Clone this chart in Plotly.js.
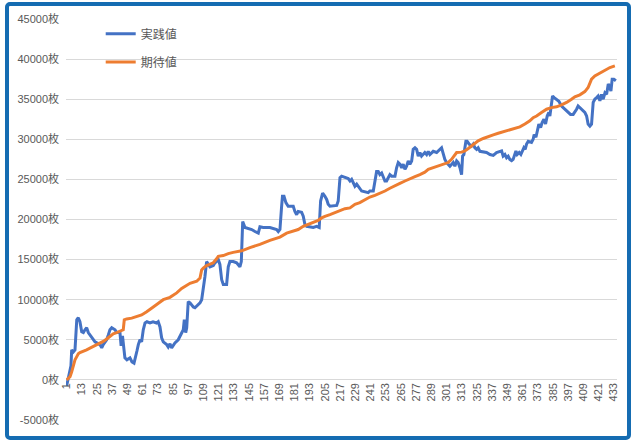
<!DOCTYPE html>
<html>
<head>
<meta charset="utf-8">
<script src="https://cdn.plot.ly/plotly-3.0.1.min.js"></script>
<style>
  html, body { margin: 0; padding: 0; background: #fff; }
  #frame { position: absolute; left: 5px; top: 2px; width: 626px; height: 438px;
           box-sizing: border-box; border: 4px solid #156CB2; border-radius: 5px; }
  #chart { position: absolute; left: 0; top: 0; width: 644px; height: 445px; }
</style>
</head>
<body>
<div id="frame"></div>
<div id="chart"></div>
<script>
// 実践値 (blue): index along the run
const actualIdx = [1,2.3,3.7,4.4,5,6.3,7.6,9,10.2,11.5,12.9,14.2,15.5,16.8,18.1,19.4,20.8,23.4,27.3,28.7,29.9,32.6,33.9,35.2,36.6,39.2,40.5,43.1,44,45.1,47,48.6,51,52.6,54.2,55.4,56.5,57.6,58.9,60.2,61.5,62.9,64.4,66.8,69.2,72,73.3,74.7,76,77.3,78.6,80,81.2,82.6,83.9,86.5,89.1,91.8,93.1,93.9,95,95.8,97,98.4,101,102.3,104.9,106.3,107.6,108.9,110.2,111.5,112.8,114.2,116.8,118.1,120.7,122,123.4,124.7,127.3,128.6,129.9,132.5,135.2,136.5,137.8,138.9,140,141.8,144.4,147.1,149.7,152.3,153.6,156.2,161.5,166.8,168.1,169.4,170.7,171.4,172.6,174.1,175.9,179.9,181.2,182.6,183.8,186.5,187.8,189.1,190.5,195.7,198.4,200.4,201.5,203.1,204.9,206.3,207.5,208.9,214.2,215.4,216.8,218.1,223.3,224.7,226,227.3,228.6,230,232.5,233.9,239.1,240.4,243.1,245.7,247,248.3,249.7,252.3,253.6,254.9,256.2,257.6,260.2,261.5,262.8,264.1,265.5,266.7,268.1,269.4,270.7,272,273.4,274.6,276,277.3,278.6,279.9,281.2,283.8,285.2,286.5,287.8,290.4,293.1,297,298.3,299.6,301,302.2,303.6,306.2,307.5,308.9,310.1,311.5,312.8,313.6,314.6,316.2,317.2,318.8,320.7,322,323.3,324.7,325.9,327.3,332.5,335.2,337.8,340.4,343,344.4,345.6,347,348.3,349.6,350.9,352.3,353.5,354.9,355.7,356.7,358.3,359.6,361,362,363,364.1,365.4,368,369.3,370.1,371.5,372.5,373.8,375.2,376.4,377.8,379.1,380.4,381.7,382.5,383.8,384.6,385.9,387.2,389.6,391.7,393,394.3,395.7,397,398.8,400.9,402.2,403.6,404.8,406.2,408.8,410.1,411.5,412.7,414.1,415.4,416.7,418,419.4,420.6,422,423.3,424.6,426,427.3,428.6,429.9,430.7,431.7,433,434.6];
const actualVal = [-750,250,1000,1750,3750,3500,3750,7500,7750,7250,6000,5900,6250,6500,5900,5600,5250,4750,4400,4000,4400,5000,5600,6250,6500,6250,5900,5900,4250,5500,2750,2500,2750,2250,2100,2750,3600,4400,5000,4750,6250,7100,7250,7100,7250,7100,7250,6600,5250,4750,4600,4400,4100,4500,4000,4600,5000,5900,6250,7500,5900,6500,9750,9600,9100,9000,9400,9600,10000,11250,12900,14750,14400,14100,14250,14600,15000,14400,12500,11900,11900,14100,14750,14750,14600,14400,14100,14750,19750,19000,18900,18750,18500,18300,19100,19000,19000,18750,18500,18750,21600,22900,22900,22100,21650,21650,21000,20600,21000,20900,20400,19400,19150,19000,19150,19000,22300,23300,22900,22500,21900,21650,21750,22300,25200,25400,25100,24800,25000,24600,24150,24400,23750,23550,23350,23550,23550,26000,26000,25600,25800,24800,24800,25200,25600,25400,25400,26450,27100,26900,26450,26900,26250,26650,27300,26900,27300,28750,28950,28750,27900,28350,27900,28350,28100,28500,28100,28500,28350,28950,28100,27500,27100,26900,26650,27100,26650,27300,27100,26450,25600,27900,28100,29750,29750,29400,29150,29400,28950,28750,28950,28500,28350,28100,28000,28350,28500,28550,27900,28100,27700,27900,27500,27350,27500,28100,28550,28100,28350,28100,28550,28950,28750,29400,29750,29600,30000,30600,30250,31000,31900,31450,32100,32500,31900,32900,33350,32900,35000,35400,35200,35000,34750,34150,33950,33750,33500,33350,33100,33100,33350,33750,34150,33950,33500,33350,32900,31900,31650,31900,34600,35000,35200,35400,34800,35600,35000,35800,35600,36900,36450,36000,37500,37500,37300];

// 期待値 (orange)
const expectedIdx = [1,3.7,5,6.3,7.6,9,10.2,11.5,14.2,16.8,19.4,22,24.7,27.3,29.9,32.6,35.2,37.8,40.5,43.1,45.7,46.5,48.4,52.4,56.3,60.2,64.2,66.8,69.4,72.1,74.7,77.3,82.6,87.9,91.8,95.8,98.4,103.7,106.3,107.6,108.9,111.5,114.2,116.8,119.4,120.7,124.7,128.6,132.5,139.2,145.7,153.6,161.5,169.4,174.7,179.9,183.8,187.8,191.7,195.7,199.6,202.3,204.9,208.9,212.8,216.8,220.7,224.7,228.6,232.5,236.5,240.4,244.4,248.3,252.3,256.2,260.2,264.1,268.1,272,276,279.9,283.8,286.5,290.4,294.4,298.3,302.2,304.9,307.5,308.9,312.8,315.4,318.1,320.7,323.3,325.9,329.9,333.8,337.8,341.7,348.3,353.5,358.8,362.8,366.7,369.3,372,375.9,379.9,383.8,387.8,391.7,395.7,399.6,402.2,406.2,410.1,412.7,415.4,418,422,426,429.9,433.8];
const expectedVal = [0,400,1000,1900,2500,2900,3250,3400,3550,3750,3950,4150,4400,4600,4800,5100,5400,5750,5900,6050,6250,7500,7600,7700,7900,8100,8500,8750,9100,9400,9650,10000,10300,10850,11400,11850,12050,12300,12700,13700,13950,14250,14400,14600,15100,15400,15500,15750,15900,16100,16500,16900,17400,17800,18300,18550,18750,19150,19400,19650,19900,20200,20400,20600,20850,21050,21350,21450,21900,22100,22500,22800,23000,23250,23550,23900,24250,24500,24800,25100,25350,25600,25900,26250,26450,26650,26900,27100,27500,28100,28350,28400,28550,28850,29150,29400,29800,30100,30350,30550,30750,31050,31250,31550,31900,32300,32700,32900,33350,33750,33950,34050,34300,34600,35000,35300,35550,35950,36450,37500,37900,38250,38550,38950,39150];

// axis ticks
const xTicks = [1,13,25,37,49,61,73,85,97,109,121,133,145,157,169,181,193,205,217,229,241,253,265,277,289,301,313,325,337,349,361,373,385,397,409,421,433];
const yTicks = [-5000,0,5000,10000,15000,20000,25000,30000,35000,40000,45000];

const FONT = '"Liberation Sans", "Noto Sans CJK JP", sans-serif';
const GREY = '#595959';

const traces = [
  { x: actualIdx, y: actualVal, type: 'scatter', mode: 'lines', name: '実践値',
    line: { color: '#4472C4', width: 3 }, legend: 'legend' },
  { x: expectedIdx, y: expectedVal, type: 'scatter', mode: 'lines', name: '期待値',
    line: { color: '#ED7D31', width: 3 }, legend: 'legend2' }
];

const legendBase = {
  bgcolor: 'rgba(0,0,0,0)', borderwidth: 0,
  font: { family: '"Noto Sans CJK JP", sans-serif', size: 12, color: GREY },
  xanchor: 'left', yanchor: 'middle'
};

const layout = {
  width: 644, height: 445,
  margin: { l: 66, r: 27, t: 19, b: 25 },
  paper_bgcolor: 'rgba(0,0,0,0)', plot_bgcolor: 'rgba(0,0,0,0)',
  font: { family: FONT, size: 11, color: GREY },
  xaxis: {
    range: [0.5, 435.5], anchor: 'free', position: 0.1,
    tickvals: xTicks, ticktext: xTicks.map(String), tickangle: -90,
    showgrid: false, zeroline: false, showline: false, ticks: '',
    tickfont: { family: FONT, size: 11, color: GREY }
  },
  yaxis: {
    range: [-5000, 45000], tickvals: yTicks, ticktext: yTicks.map(v => v + '枚'),
    showgrid: true, gridcolor: '#d9d9d9', gridwidth: 1, zeroline: false, ticks: '',
    ticklabelstandoff: 6,
    tickfont: { family: FONT, size: 11, color: GREY }
  },
  showlegend: true,
  legend: Object.assign({}, legendBase, { x: 0.063, y: 0.963 }),
  legend2: Object.assign({}, legendBase, { x: 0.063, y: 0.893 })
};

Plotly.newPlot('chart', traces, layout, { displayModeBar: false, staticPlot: true });
</script>
</body>
</html>
